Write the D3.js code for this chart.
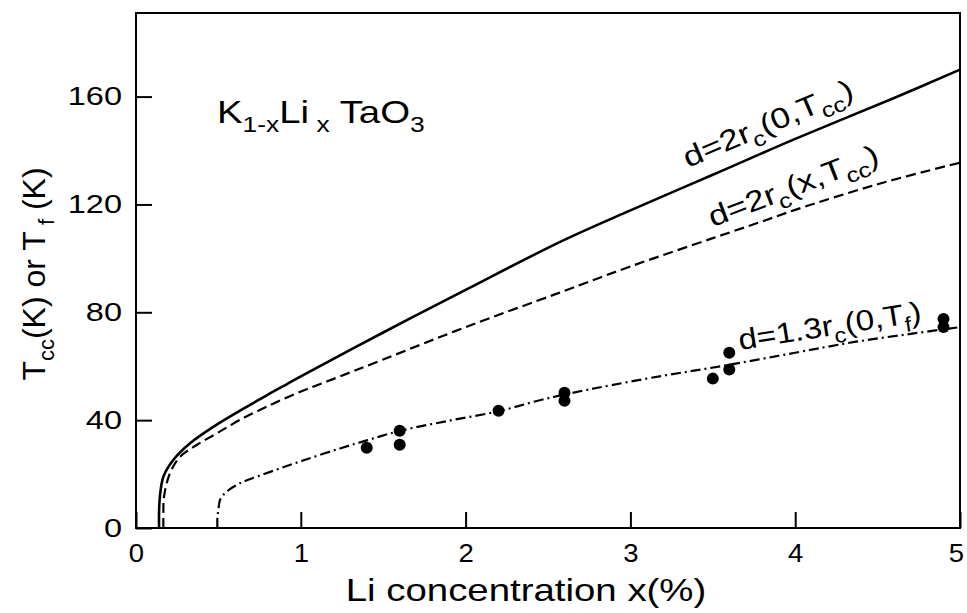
<!DOCTYPE html>
<html>
<head>
<meta charset="utf-8">
<script src="https://cdn.jsdelivr.net/npm/d3@7"></script>
<style>
  body { margin: 0; background: #fff; }
  text { font-family: "Liberation Sans", Arial, sans-serif; fill: #000; }
</style>
</head>
<body>
<div id="container"></div>
<script>
/* DATA */
const xTicks = [0, 1, 2, 3, 4, 5]
const yTicks = [0, 40, 80, 120, 160]

// d = 2 rc(0,Tcc)  (solid)
const solidX = [0.14, 0.14, 0.145, 0.166, 0.226, 0.328, 0.469, 0.631, 0.793, 0.914, 1.0, 1.5, 2.0, 2.58, 3.0, 3.5, 4.0, 4.6, 5.0]
const solidY = [0, 6, 11.6, 19, 25.2, 31.4, 37.5, 43.5, 49.2, 53.3, 56.2, 72.5, 88.3, 106.3, 117.8, 131, 144.3, 159.5, 170]

// d = 2 rc(x,Tcc)  (dashed)
const dashX = [0.166, 0.166, 0.17, 0.206, 0.267, 0.368, 0.49, 0.631, 0.793, 0.975, 1.157, 1.5, 2.0, 2.58, 3.0, 3.5, 3.79, 4.0, 4.5, 5.0]
const dashY = [0, 6, 11.6, 20.3, 26.4, 30.8, 35.1, 40.1, 45, 50, 54.3, 62.5, 74.5, 87.5, 97, 107.5, 113.5, 118, 127.5, 135.5]

// d = 1.3 rc(0,Tf)  (dash-dot)
const ddX = [0.494, 0.494, 0.5, 0.51, 0.55, 0.631, 0.732, 0.874, 1.036, 1.238, 1.4, 1.6, 1.9, 2.2, 2.45, 2.6, 2.8, 3.2, 3.55, 4.0, 4.36, 4.7, 5.0]
const ddY = [0, 4, 6.7, 10.4, 13.5, 16.6, 19, 22.1, 25.5, 29.5, 32.5, 36, 39.8, 43.3, 47.4, 49.5, 52, 56.5, 60, 65, 69, 72, 74.5]

// measured Tf
const ptX = [1.40, 1.60, 1.60, 2.20, 2.60, 2.60, 3.50, 3.60, 3.60, 4.90, 4.90]
const ptY = [29.8, 30.9, 36.1, 43.5, 50.2, 47.2, 55.4, 65, 58.8, 77.5, 74.5]

/* CONSTANTS */
const width = 967, height = 613
const margin = { top: 13, right: 7, bottom: 85, left: 136 }
const stretch = 1.2   // lettering in the figure is wide

const svg = d3.select("#container")
  .append("svg")
  .attr("width", width)
  .attr("height", height)

// SCALES
const xScale = d3.scaleLinear()
  .domain([0, 5])
  .range([margin.left, width - margin.right])

const yScale = d3.scaleLinear()
  .domain([0, 191])
  .range([height - margin.bottom, margin.top])

// FRAME
svg.append("rect")
  .attr("x", xScale(0))
  .attr("y", yScale(191))
  .attr("width", xScale(5) - xScale(0))
  .attr("height", yScale(0) - yScale(191))
  .attr("fill", "none")
  .attr("stroke", "#000")
  .attr("stroke-width", 2)

// AXES (ticks point inward)
const xAxis = svg.append("g")
  .attr("transform", `translate(0, ${yScale(0)})`)
  .call(d3.axisBottom(xScale).tickValues(xTicks).tickFormat(d3.format("d"))
    .tickSizeInner(-16).tickSizeOuter(0).tickPadding(16))
xAxis.select(".domain").remove()
xAxis.selectAll("line").attr("stroke-width", 2)
xAxis.selectAll("text")
  .attr("font-size", 25)
  .attr("font-family", "Liberation Sans")
  .attr("x", 0)
  .attr("transform", d => d === 5 ? "translate(-4,0) scale(1.1,1)" : "scale(1.1,1)")

const yAxis = svg.append("g")
  .attr("transform", `translate(${xScale(0)}, 0)`)
  .call(d3.axisLeft(yScale).tickValues(yTicks)
    .tickSizeInner(-16).tickSizeOuter(0).tickPadding(14))
yAxis.select(".domain").remove()
yAxis.selectAll("line").attr("stroke-width", 2)
yAxis.selectAll("text")
  .attr("font-size", 25)
  .attr("font-family", "Liberation Sans")
  .attr("x", 0)
  .attr("transform", "translate(-14,0) scale(1.3,1)")

// LINES
const lineGen = d3.line()
  .x(d => xScale(d[0]))
  .y(d => yScale(d[1]))
  .curve(d3.curveCatmullRom.alpha(0.5))

const series = [
  { xs: solidX, ys: solidY, dash: null, w: 2.6 },
  { xs: dashX, ys: dashY, dash: "10,5", w: 2.2 },
  { xs: ddX, ys: ddY, dash: "10,4,2,4", w: 2.2 }
]

series.forEach(s => {
  svg.append("path")
    .attr("d", lineGen(s.xs.map((x, i) => [x, s.ys[i]])))
    .attr("fill", "none")
    .attr("stroke", "#000")
    .attr("stroke-width", s.w)
    .attr("stroke-dasharray", s.dash)
})

// POINTS
svg.selectAll(".pt")
  .data(ptX.map((x, i) => [x, ptY[i]]))
  .join("circle")
  .attr("class", "pt")
  .attr("cx", d => xScale(d[0]))
  .attr("cy", d => yScale(d[1]))
  .attr("r", 6)
  .attr("fill", "#000")

// helper for text with subscripts: parts = [[str, isSub], ...]
function richText(g, parts, size, subSize) {
  const t = g.append("text").attr("font-size", size)
  let down = false
  parts.forEach(p => {
    const ts = t.append("tspan").text(p[0])
    if (p[1] && !down) { ts.attr("dy", size * 0.28).attr("font-size", subSize); down = true }
    else if (p[1]) { ts.attr("font-size", subSize) }
    else if (!p[1] && down) { ts.attr("dy", -size * 0.28); down = false }
  })
  return t
}

// COMPOUND LABEL
richText(svg.append("g").attr("transform", `translate(217, 123) scale(${stretch},1)`),
  [["K", false], ["1-x", true], ["Li", false], [" x", true], [" TaO", false], ["3", true]], 32, 22)

// CURVE LABELS
richText(svg.append("g").attr("transform", `translate(${xScale(3.35)}, ${yScale(133.5)}) rotate(-23) scale(${stretch},1)`),
  [["d=2r", false], ["c", true], ["(0,T", false], ["cc", true], [")", false]], 29, 21)

richText(svg.append("g").attr("transform", `translate(${xScale(3.5)}, ${yScale(111.5)}) rotate(-21) scale(${stretch},1)`),
  [["d=2r", false], ["c", true], ["(x,T", false], ["cc", true], [")", false]], 29, 21)

richText(svg.append("g").attr("transform", `translate(${xScale(3.665)}, ${yScale(66)}) rotate(-9) scale(1.15,1)`),
  [["d=1.3r", false], ["c", true], ["(0,T", false], ["f", true], [")", false]], 29, 21)

// AXIS TITLES
svg.append("g")
  .attr("transform", `translate(526, 601) scale(${stretch},1)`)
  .append("text")
  .attr("text-anchor", "middle")
  .attr("font-size", 32)
  .text("Li concentration x(%)")

const yt = richText(svg.append("g").attr("transform", `translate(45, 274) rotate(-90)`),
  [["T", false], ["cc", true], ["(K) or T", false], [" f", true], [" (K)", false]], 32, 22)
yt.attr("text-anchor", "middle")
</script>
</body>
</html>
